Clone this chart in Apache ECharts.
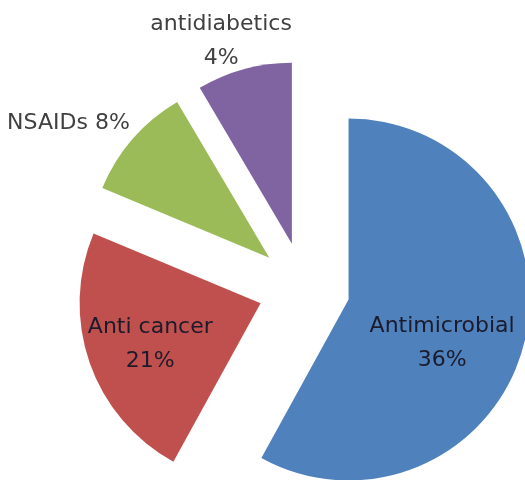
<!DOCTYPE html>
<html>
<head>
<meta charset="utf-8">
<script src="https://cdn.jsdelivr.net/npm/echarts@6/dist/echarts.min.js"></script>
<style>
  html, body { margin: 0; padding: 0; background: #fff; }
  #chartWrap { width: 525px; height: 480px; }
</style>
</head>
<body>
<div id="chartWrap"></div>
<script>
var categories = ['Antimicrobial', 'Anti cancer', 'NSAIDs', 'antidiabetics'];
var sliceValues = [58, 23.3, 10.2, 8.5];
var percentLabels = ['36%', '21%', '8%', '4%'];
var colors = ['#4F81BD', '#C0504D', '#9BBB59', '#8064A2'];

// label nudges after pie layout
var labelShift = [[3, 21], [-22, 10], [2, -16], [-18, -28]];

var data = [];
for (var i = 0; i < categories.length; i++) {
  var inside = i < 2;
  data.push({
    name: categories[i],
    value: sliceValues[i],
    selected: true,
    itemStyle: { color: colors[i] },
    label: {
      position: inside ? 'inside' : 'outside',
      color: inside ? '#1b1b2b' : '#404040',
      formatter: i == 2 ? '{b} ' + percentLabels[i] : '{b}\n' + percentLabels[i]
    }
  });
}

var myChart = echarts.init(document.getElementById('chartWrap'));
myChart.setOption({
  animation: false,
  series: [{
    type: 'pie',
    center: [304, 288],
    radius: 181,
    startAngle: 90,
    clockwise: true,
    selectedMode: 'multiple',
    selectedOffset: 46,
    avoidLabelOverlap: false,
    emphasis: { disabled: true },
    label: {
      fontFamily: 'DejaVu Sans',
      fontSize: 22,
      lineHeight: 34
    },
    labelLine: { show: false, length: 0, length2: 0 },
    labelLayout: function (params) {
      var s = labelShift[params.dataIndex];
      var res = { dx: s[0], dy: s[1] };
      if (params.dataIndex == 3) res.align = 'center';
      return res;
    },
    data: data
  }]
});
</script>
</body>
</html>
